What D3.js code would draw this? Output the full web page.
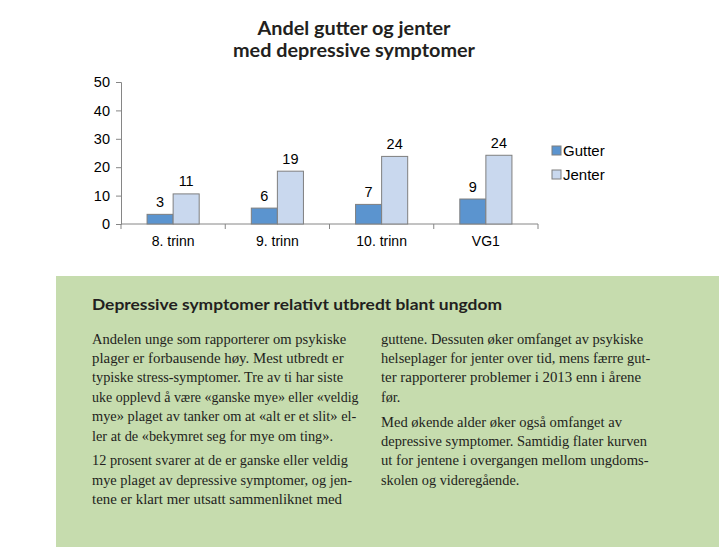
<!DOCTYPE html>
<html>
<head>
<meta charset="utf-8">
<script src="https://cdn.jsdelivr.net/npm/d3@7"></script>
<style>
  html, body { margin: 0; padding: 0; background: #ffffff; }
  svg { display: block; }
</style>
</head>
<body>
<svg id="chart" width="719" height="547"></svg>
<script>
// ---- Data ----
const categories = ["8. trinn", "9. trinn", "10. trinn", "VG1"];
const seriesNames = ["Gutter", "Jenter"];
const gutterValues = [3.4, 5.6, 6.9, 8.8];
const jenterValues = [10.6, 18.6, 23.8, 24.2];
const yTicks = [0, 10, 20, 30, 40, 50];
const titleLines = ["Andel gutter og jenter", "med depressive symptomer"];
const boxHeading = "Depressive symptomer relativt utbredt blant ungdom";
const leftColumn = [
  ["Andelen unge som rapporterer om psykiske",
   "plager er forbausende høy. Mest utbredt er",
   "typiske stress-symptomer. Tre av ti har siste",
   "uke opplevd å være «ganske mye» eller «veldig",
   "mye» plaget av tanker om at «alt er et slit» el-",
   "ler at de «bekymret seg for mye om ting»."],
  ["12 prosent svarer at de er ganske eller veldig",
   "mye plaget av depressive symptomer, og jen-",
   "tene er klart mer utsatt sammenliknet med"]
];
const rightColumn = [
  ["guttene. Dessuten øker omfanget av psykiske",
   "helseplager for jenter over tid, mens færre gut-",
   "ter rapporterer problemer i 2013 enn i årene",
   "før."],
  ["Med økende alder øker også omfanget av",
   "depressive symptomer. Samtidig flater kurven",
   "ut for jentene i overgangen mellom ungdoms-",
   "skolen og videregående."]
];
// measured rendered widths of body lines (layout only)
const leftWidths = [[254.3, 251.6, 251, 266.6, 264.3, 241], [256, 260, 250]];
const rightWidths = [[262.3, 269.3, 260, 19.3], [241, 266, 267.6, 138.3]];

const colors = { Gutter: "#5b94cf", Jenter: "#c9d8ee" };
const textColor = "#231f20";

const svg = d3.select("#chart");

// ---- Title ----
const titleWidths = [193, 242];
const titleY = [35, 57];
svg.selectAll("text.title").data(titleLines).join("text")
  .attr("class", "title")
  .attr("x", 354).attr("y", (d, i) => titleY[i])
  .attr("text-anchor", "middle")
  .attr("font-family", "Lato, 'Open Sans', sans-serif")
  .attr("font-weight", 700)
  .attr("font-size", 18.5)
  .attr("fill", textColor)
  .attr("textLength", (d, i) => titleWidths[i])
  .attr("lengthAdjust", "spacingAndGlyphs")
  .text(d => d);

// ---- Scales ----
const x = d3.scaleBand().domain(categories).range([121, 538]).paddingInner(0).paddingOuter(0);
const xs = d3.scaleBand().domain(seriesNames).range([0, x.bandwidth()]).paddingInner(0).paddingOuter(1);
const y = d3.scaleLinear().domain([0, 50]).range([224, 82]);

const axisColor = "#868686";
const labelFont = "Arial, 'Liberation Sans', sans-serif";

// Y axis
const yAxis = svg.append("g").attr("transform", "translate(121,0)")
  .call(d3.axisLeft(y).tickValues(yTicks).tickSize(5).tickPadding(6).tickFormat(d3.format("d")));
yAxis.select(".domain").attr("stroke", axisColor);
yAxis.selectAll(".tick line").attr("stroke", axisColor);
yAxis.selectAll(".tick text").attr("font-family", labelFont).attr("font-size", 14.5).attr("fill", "#000");

// X axis (ticks at category boundaries)
const xAxis = svg.append("g").attr("transform", `translate(0,${y(0)})`);
xAxis.append("line").attr("x1", x.range()[0]).attr("x2", x.range()[1])
  .attr("stroke", axisColor);
const boundaries = categories.map(c => x(c)).concat([x.range()[1]]);
xAxis.selectAll("line.tk").data(boundaries).join("line").attr("class", "tk")
  .attr("x1", d => d).attr("x2", d => d).attr("y1", 0).attr("y2", 5)
  .attr("stroke", axisColor);
xAxis.selectAll("text").data(categories).join("text")
  .attr("x", d => x(d) + x.bandwidth() / 2).attr("y", 22)
  .attr("text-anchor", "middle")
  .attr("font-family", labelFont).attr("font-size", 14).attr("fill", "#000")
  .text(d => d);

// ---- Bars ----
const rows = categories.map((c, i) => ({ cat: c, Gutter: gutterValues[i], Jenter: jenterValues[i] }));
const groups = svg.selectAll("g.grp").data(rows).join("g").attr("class", "grp")
  .attr("transform", d => `translate(${x(d.cat)},0)`);
groups.selectAll("rect").data(d => seriesNames.map(s => ({ s, v: d[s] }))).join("rect")
  .attr("x", d => xs(d.s)).attr("width", xs.bandwidth())
  .attr("y", d => y(d.v)).attr("height", d => y(0) - y(d.v))
  .attr("fill", d => colors[d.s]).attr("stroke", "#7f7f7f").attr("stroke-width", 1);
groups.selectAll("text").data(d => seriesNames.map(s => ({ s, v: d[s] }))).join("text")
  .attr("x", d => xs(d.s) + xs.bandwidth() / 2).attr("y", d => y(d.v) - 7.5)
  .attr("text-anchor", "middle")
  .attr("font-family", labelFont).attr("font-size", 14.5).attr("fill", "#000")
  .text(d => Math.round(d.v));

// ---- Legend ----
const legend = svg.append("g").attr("transform", "translate(552,146)");
const li = legend.selectAll("g").data(seriesNames).join("g")
  .attr("transform", (d, i) => `translate(0,${i * 24})`);
li.append("rect").attr("width", 9).attr("height", 9)
  .attr("fill", d => colors[d]).attr("stroke", "#7f7f7f").attr("stroke-width", 1);
li.append("text").attr("x", 11).attr("y", 4.5).attr("dy", "0.35em")
  .attr("font-family", labelFont).attr("font-size", 15).attr("fill", "#000")
  .text(d => d);

// ---- Green info box ----
svg.append("rect").attr("x", 56).attr("y", 276).attr("width", 663).attr("height", 271)
  .attr("fill", "#c6dcae");
svg.append("text").attr("x", 92).attr("y", 309.5)
  .attr("font-family", "Lato, 'Open Sans', sans-serif").attr("font-weight", 700)
  .attr("font-size", 16).attr("fill", textColor)
  .attr("textLength", 410).attr("lengthAdjust", "spacingAndGlyphs")
  .text(boxHeading);

function drawColumn(paras, widths, x0) {
  const lines = [];
  let yy = 343.5;
  paras.forEach((p, pi) => {
    p.forEach((t, li2) => {
      lines.push({ t, y: yy, w: widths[pi][li2] });
      yy += 19.4;
    });
    yy += 5.5;
  });
  svg.append("g").selectAll("text").data(lines).join("text")
    .attr("x", x0).attr("y", d => d.y)
    .attr("font-family", "'Liberation Serif', 'Times New Roman', serif")
    .attr("font-size", 14.5).attr("fill", textColor)
    .attr("textLength", d => d.w).attr("lengthAdjust", "spacingAndGlyphs")
    .text(d => d.t);
}
drawColumn(leftColumn, leftWidths, 92);
drawColumn(rightColumn, rightWidths, 381);
</script>
</body>
</html>
